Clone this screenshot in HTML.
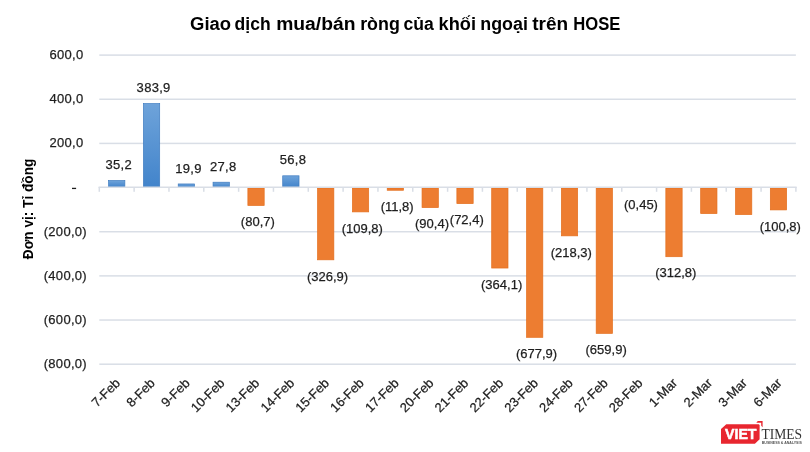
<!DOCTYPE html><html><head><meta charset="utf-8"><style>
html,body{margin:0;padding:0;background:#fff;width:810px;height:452px;overflow:hidden}
svg{display:block;will-change:transform}
.t{font-family:"Liberation Sans",sans-serif;font-size:13px;fill:#1e1e1e;letter-spacing:0.3px}
.title{font-family:"Liberation Sans",sans-serif;font-size:17.5px;font-weight:bold;fill:#000}
.lv{font-family:"Liberation Sans",sans-serif;font-size:13.8px;font-weight:bold;fill:#fff;stroke:#fff;stroke-width:0.5px}
.lt{font-family:"Liberation Serif",serif;font-size:15px;fill:#333}
.tk{font-family:"Liberation Sans",sans-serif;font-size:13px;fill:#1e1e1e;letter-spacing:0.3px}
.xl{font-family:"Liberation Sans",sans-serif;font-size:13px;fill:#1e1e1e}
.t,.tk,.xl{stroke:#1e1e1e;stroke-width:0.25px}
.tn{letter-spacing:0px}
.yt{font-family:"Liberation Sans",sans-serif;font-size:14.5px;font-weight:bold;fill:#000}
</style></head><body><svg width="810" height="452" viewBox="0 0 810 452">
<defs><linearGradient id="gb" x1="0" y1="0" x2="0" y2="1"><stop offset="0" stop-color="#6EA3DA"/><stop offset="1" stop-color="#4284CB"/></linearGradient></defs>
<rect x="99.3" y="54.35" width="696.6" height="1.5" fill="#D9DEE6"/>
<text x="83.5" y="58.90" text-anchor="end" class="tk">600,0</text>
<rect x="99.3" y="98.51" width="696.6" height="1.5" fill="#D9DEE6"/>
<text x="83.5" y="103.06" text-anchor="end" class="tk">400,0</text>
<rect x="99.3" y="142.66" width="696.6" height="1.5" fill="#D9DEE6"/>
<text x="83.5" y="147.21" text-anchor="end" class="tk">200,0</text>
<rect x="72" y="187.77" width="4.1" height="1.3" fill="#1e1e1e"/>
<rect x="99.3" y="230.98" width="696.6" height="1.5" fill="#D9DEE6"/>
<text x="87" y="235.53" text-anchor="end" class="tk">(200,0)</text>
<rect x="99.3" y="275.14" width="696.6" height="1.5" fill="#D9DEE6"/>
<text x="87" y="279.69" text-anchor="end" class="tk">(400,0)</text>
<rect x="99.3" y="319.29" width="696.6" height="1.5" fill="#D9DEE6"/>
<text x="87" y="323.84" text-anchor="end" class="tk">(600,0)</text>
<rect x="99.3" y="363.45" width="696.6" height="1.5" fill="#D9DEE6"/>
<text x="87" y="368.00" text-anchor="end" class="tk">(800,0)</text>
<rect x="108.56" y="180.58" width="16.30" height="6.62" fill="url(#gb)" stroke="#3F7CC0" stroke-width="0.7"/>
<rect x="143.39" y="103.59" width="16.30" height="83.61" fill="url(#gb)" stroke="#3F7CC0" stroke-width="0.7"/>
<rect x="178.22" y="183.96" width="16.30" height="3.24" fill="url(#gb)" stroke="#3F7CC0" stroke-width="0.7"/>
<rect x="213.05" y="182.21" width="16.30" height="4.99" fill="url(#gb)" stroke="#3F7CC0" stroke-width="0.7"/>
<rect x="247.88" y="188.00" width="16.30" height="17.47" fill="#ED7D31" stroke="#E46F1E" stroke-width="0.7"/>
<rect x="282.72" y="175.81" width="16.30" height="11.39" fill="url(#gb)" stroke="#3F7CC0" stroke-width="0.7"/>
<rect x="317.55" y="188.00" width="16.30" height="71.82" fill="#ED7D31" stroke="#E46F1E" stroke-width="0.7"/>
<rect x="352.38" y="188.00" width="16.30" height="23.89" fill="#ED7D31" stroke="#E46F1E" stroke-width="0.7"/>
<rect x="387.21" y="188.00" width="16.30" height="2.26" fill="#ED7D31" stroke="#E46F1E" stroke-width="0.7"/>
<rect x="422.04" y="188.00" width="16.30" height="19.61" fill="#ED7D31" stroke="#E46F1E" stroke-width="0.7"/>
<rect x="456.87" y="188.00" width="16.30" height="15.63" fill="#ED7D31" stroke="#E46F1E" stroke-width="0.7"/>
<rect x="491.69" y="188.00" width="16.30" height="80.04" fill="#ED7D31" stroke="#E46F1E" stroke-width="0.7"/>
<rect x="526.52" y="188.00" width="16.30" height="149.32" fill="#ED7D31" stroke="#E46F1E" stroke-width="0.7"/>
<rect x="561.36" y="188.00" width="16.30" height="47.85" fill="#ED7D31" stroke="#E46F1E" stroke-width="0.7"/>
<rect x="596.18" y="188.00" width="16.30" height="145.35" fill="#ED7D31" stroke="#E46F1E" stroke-width="0.7"/>
<rect x="631.01" y="188.00" width="16.30" height="-0.25" fill="#ED7D31" stroke="#E46F1E" stroke-width="0.7"/>
<rect x="665.84" y="188.00" width="16.30" height="68.71" fill="#ED7D31" stroke="#E46F1E" stroke-width="0.7"/>
<rect x="700.67" y="188.00" width="16.30" height="25.59" fill="#ED7D31" stroke="#E46F1E" stroke-width="0.7"/>
<rect x="735.50" y="188.00" width="16.30" height="26.59" fill="#ED7D31" stroke="#E46F1E" stroke-width="0.7"/>
<rect x="770.33" y="188.00" width="16.30" height="21.91" fill="#ED7D31" stroke="#E46F1E" stroke-width="0.7"/>
<rect x="98.55" y="186.5" width="698.1" height="1.5" fill="#D9DEE6"/>
<rect x="98.55" y="187" width="1.5" height="4.8" fill="#D9DEE6"/>
<rect x="133.38" y="187" width="1.5" height="4.8" fill="#D9DEE6"/>
<rect x="168.21" y="187" width="1.5" height="4.8" fill="#D9DEE6"/>
<rect x="203.04" y="187" width="1.5" height="4.8" fill="#D9DEE6"/>
<rect x="237.87" y="187" width="1.5" height="4.8" fill="#D9DEE6"/>
<rect x="272.70" y="187" width="1.5" height="4.8" fill="#D9DEE6"/>
<rect x="307.53" y="187" width="1.5" height="4.8" fill="#D9DEE6"/>
<rect x="342.36" y="187" width="1.5" height="4.8" fill="#D9DEE6"/>
<rect x="377.19" y="187" width="1.5" height="4.8" fill="#D9DEE6"/>
<rect x="412.02" y="187" width="1.5" height="4.8" fill="#D9DEE6"/>
<rect x="446.85" y="187" width="1.5" height="4.8" fill="#D9DEE6"/>
<rect x="481.68" y="187" width="1.5" height="4.8" fill="#D9DEE6"/>
<rect x="516.51" y="187" width="1.5" height="4.8" fill="#D9DEE6"/>
<rect x="551.34" y="187" width="1.5" height="4.8" fill="#D9DEE6"/>
<rect x="586.17" y="187" width="1.5" height="4.8" fill="#D9DEE6"/>
<rect x="621.00" y="187" width="1.5" height="4.8" fill="#D9DEE6"/>
<rect x="655.83" y="187" width="1.5" height="4.8" fill="#D9DEE6"/>
<rect x="690.66" y="187" width="1.5" height="4.8" fill="#D9DEE6"/>
<rect x="725.49" y="187" width="1.5" height="4.8" fill="#D9DEE6"/>
<rect x="760.32" y="187" width="1.5" height="4.8" fill="#D9DEE6"/>
<rect x="795.15" y="187" width="1.5" height="4.8" fill="#D9DEE6"/>
<text x="118.81" y="169.23" text-anchor="middle" class="t">35,2</text>
<text x="153.64" y="92.24" text-anchor="middle" class="t">383,9</text>
<text x="188.47" y="172.61" text-anchor="middle" class="t">19,9</text>
<text x="223.30" y="170.86" text-anchor="middle" class="t">27,8</text>
<text x="257.83" y="226.22" text-anchor="middle" class="t tn">(80,7)</text>
<text x="292.97" y="164.46" text-anchor="middle" class="t">56,8</text>
<text x="327.50" y="280.57" text-anchor="middle" class="t tn">(326,9)</text>
<text x="362.32" y="232.64" text-anchor="middle" class="t tn">(109,8)</text>
<text x="397.16" y="211.01" text-anchor="middle" class="t tn">(11,8)</text>
<text x="431.99" y="228.36" text-anchor="middle" class="t tn">(90,4)</text>
<text x="466.81" y="224.38" text-anchor="middle" class="t tn">(72,4)</text>
<text x="501.64" y="288.79" text-anchor="middle" class="t tn">(364,1)</text>
<text x="536.48" y="358.07" text-anchor="middle" class="t tn">(677,9)</text>
<text x="571.31" y="256.60" text-anchor="middle" class="t tn">(218,3)</text>
<text x="606.13" y="354.10" text-anchor="middle" class="t tn">(659,9)</text>
<text x="640.97" y="208.50" text-anchor="middle" class="t tn">(0,45)</text>
<text x="675.79" y="277.46" text-anchor="middle" class="t tn">(312,8)</text>
<text x="780.28" y="230.66" text-anchor="middle" class="t tn">(100,8)</text>
<text transform="translate(114.12,377) rotate(-45)" x="0" y="0" text-anchor="end" dominant-baseline="hanging" class="xl">7-Feb</text>
<text transform="translate(148.94,377) rotate(-45)" x="0" y="0" text-anchor="end" dominant-baseline="hanging" class="xl">8-Feb</text>
<text transform="translate(183.78,377) rotate(-45)" x="0" y="0" text-anchor="end" dominant-baseline="hanging" class="xl">9-Feb</text>
<text transform="translate(218.60,377) rotate(-45)" x="0" y="0" text-anchor="end" dominant-baseline="hanging" class="xl">10-Feb</text>
<text transform="translate(253.43,377) rotate(-45)" x="0" y="0" text-anchor="end" dominant-baseline="hanging" class="xl">13-Feb</text>
<text transform="translate(288.26,377) rotate(-45)" x="0" y="0" text-anchor="end" dominant-baseline="hanging" class="xl">14-Feb</text>
<text transform="translate(323.09,377) rotate(-45)" x="0" y="0" text-anchor="end" dominant-baseline="hanging" class="xl">15-Feb</text>
<text transform="translate(357.92,377) rotate(-45)" x="0" y="0" text-anchor="end" dominant-baseline="hanging" class="xl">16-Feb</text>
<text transform="translate(392.75,377) rotate(-45)" x="0" y="0" text-anchor="end" dominant-baseline="hanging" class="xl">17-Feb</text>
<text transform="translate(427.58,377) rotate(-45)" x="0" y="0" text-anchor="end" dominant-baseline="hanging" class="xl">20-Feb</text>
<text transform="translate(462.41,377) rotate(-45)" x="0" y="0" text-anchor="end" dominant-baseline="hanging" class="xl">21-Feb</text>
<text transform="translate(497.24,377) rotate(-45)" x="0" y="0" text-anchor="end" dominant-baseline="hanging" class="xl">22-Feb</text>
<text transform="translate(532.07,377) rotate(-45)" x="0" y="0" text-anchor="end" dominant-baseline="hanging" class="xl">23-Feb</text>
<text transform="translate(566.90,377) rotate(-45)" x="0" y="0" text-anchor="end" dominant-baseline="hanging" class="xl">24-Feb</text>
<text transform="translate(601.73,377) rotate(-45)" x="0" y="0" text-anchor="end" dominant-baseline="hanging" class="xl">27-Feb</text>
<text transform="translate(636.56,377) rotate(-45)" x="0" y="0" text-anchor="end" dominant-baseline="hanging" class="xl">28-Feb</text>
<text transform="translate(671.39,377) rotate(-45)" x="0" y="0" text-anchor="end" dominant-baseline="hanging" class="xl">1-Mar</text>
<text transform="translate(706.22,377) rotate(-45)" x="0" y="0" text-anchor="end" dominant-baseline="hanging" class="xl">2-Mar</text>
<text transform="translate(741.05,377) rotate(-45)" x="0" y="0" text-anchor="end" dominant-baseline="hanging" class="xl">3-Mar</text>
<text transform="translate(775.88,377) rotate(-45)" x="0" y="0" text-anchor="end" dominant-baseline="hanging" class="xl">6-Mar</text>
<text x="190.05" y="29.5" textLength="41.05" lengthAdjust="spacingAndGlyphs" class="title">Giao</text>
<text x="234.60" y="29.5" textLength="36.00" lengthAdjust="spacingAndGlyphs" class="title">dịch</text>
<text x="276.20" y="29.5" textLength="79.30" lengthAdjust="spacingAndGlyphs" class="title">mua/bán</text>
<text x="360.20" y="29.5" textLength="39.60" lengthAdjust="spacingAndGlyphs" class="title">ròng</text>
<text x="403.60" y="29.5" textLength="30.30" lengthAdjust="spacingAndGlyphs" class="title">của</text>
<text x="438.60" y="29.5" textLength="37.40" lengthAdjust="spacingAndGlyphs" class="title">khối</text>
<text x="480.30" y="29.5" textLength="47.60" lengthAdjust="spacingAndGlyphs" class="title">ngoại</text>
<text x="532.20" y="29.5" textLength="35.90" lengthAdjust="spacingAndGlyphs" class="title">trên</text>
<text x="573.30" y="29.5" textLength="47.10" lengthAdjust="spacingAndGlyphs" class="title">HOSE</text>
<text transform="translate(32.8,259.2) rotate(-90)" textLength="100.5" lengthAdjust="spacingAndGlyphs" class="yt">Đơn vị: Tỉ đồng</text>
<polygon points="721,429 726.3,424.3 758.8,424.3 759.6,425 759.6,439.2 754.9,443.7 721,443.7" fill="#E8262F"/>
<polygon points="756.3,422.8 757.8,421 762.6,421 762.6,427.2 761.2,425.8 761.2,422.8" fill="#E8262F"/>
<text x="725" y="439.2" textLength="31.5" lengthAdjust="spacingAndGlyphs" class="lv">VIET</text>
<text x="761.4" y="438.7" textLength="40.7" lengthAdjust="spacingAndGlyphs" class="lt">TIMES</text>
<text x="761.8" y="444.1" textLength="40" lengthAdjust="spacingAndGlyphs" style="font-family:'Liberation Sans',sans-serif;font-size:3.4px;font-weight:bold;fill:#555">BUSINESS &amp; ANALYSIS</text>
</svg></body></html>
